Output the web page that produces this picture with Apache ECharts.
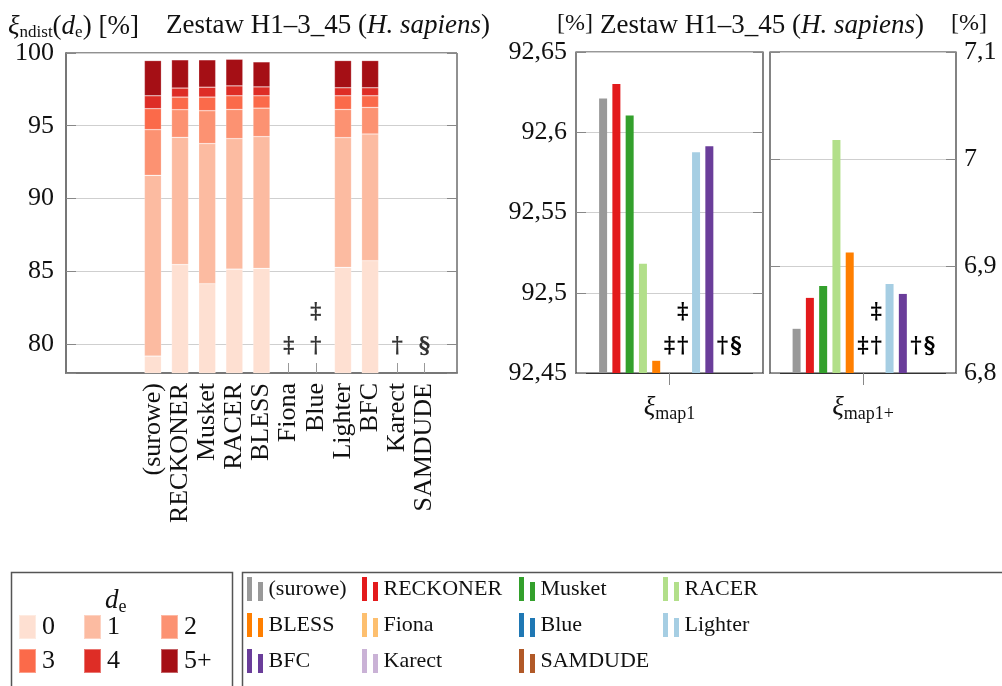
<!DOCTYPE html>
<html>
<head>
<meta charset="utf-8">
<script src="https://cdn.jsdelivr.net/npm/echarts@6/dist/echarts.min.js"></script>
<style>
  html, body { margin: 0; padding: 0; background: #fff; }
  #chart { width: 1002px; height: 686px; }
</style>
</head>
<body>
<div id="chart"></div>
<script>
// Tools compared on the H1-3_45 (H. sapiens) read set
const tools = ['(surowe)', 'RECKONER', 'Musket', 'RACER', 'BLESS', 'Fiona', 'Blue', 'Lighter', 'BFC', 'Karect', 'SAMDUDE'];
const toolColors = ['#999999', '#e31a1c', '#33a02c', '#b2df8a', '#ff7f00', '#fdbf6f', '#1f78b4', '#a6cee3', '#6a3d9a', '#cab2d6', '#b15928'];
// Footnote marks for tools without a result
const marks = ['', '', '', '', '', '‡', '‡\n†', '', '', '†', '§'];

// Edit-distance classes d_e and their shares [%] (stacked)
const deLevels = ['0', '1', '2', '3', '4', '5+'];
const deColors = ['#fee0d2', '#fcbba1', '#fc9272', '#fb6a4a', '#de2d26', '#a50f15'];
const de0 = [79.16, 85.45, 84.14, 85.14, 85.19, null, null, 85.26, 85.72, null, null];
const de1 = [12.43, 8.75, 9.63, 8.97, 9.06, null, null, 8.92, 8.71, null, null];
const de2 = [3.14, 1.90, 2.26, 2.01, 1.96, null, null, 1.94, 1.83, null, null];
const de3 = [1.44, 0.87, 0.94, 0.94, 0.85, null, null, 0.94, 0.80, null, null];
const de4 = [0.89, 0.62, 0.68, 0.68, 0.61, null, null, 0.55, 0.55, null, null];
const de5 = [2.42, 1.94, 1.88, 1.83, 1.72, null, null, 1.87, 1.87, null, null];
const deSeries = [de0, de1, de2, de3, de4, de5];

// Mapping rates [%]
const map1 = [92.621, 92.630, 92.6105, 92.518, 92.4576, null, null, 92.5876, 92.5913, null, null];
const map1plus = [6.8413, 6.8702, 6.8814, 7.0177, 6.9127, null, null, 6.8832, 6.8739, null, null];

// Axis ranges
const ndistRange = [78, 100];
const map1Range = [92.45, 92.65];
const map1plusRange = [6.8, 7.1];

const FONT = 'Liberation Serif';
const MARK_FONT = 'DejaVu Serif';
const INK = '#111';

const chart = echarts.init(document.getElementById('chart'), null, { renderer: 'canvas' });
const idx = tools.map((_, i) => i);

const comma = v => String(Math.round(v * 100) / 100).replace('.', ',');

const markLabel = {
  show: true, position: 'top', distance: 10,
  fontFamily: MARK_FONT, fontWeight: 'bold', fontSize: 22, lineHeight: 34, color: '#000'
};

const series = [];

// Stacked d_e bars; rows are [share, toolIndex] so the share is the stacked dimension
deLevels.forEach((lv, k) => {
  series.push({
    type: 'bar', name: lv, stack: 'de',
    xAxisIndex: 0, yAxisIndex: 0,
    barWidth: 17,
    encode: { x: 1, y: 0 },
    itemStyle: { color: deColors[k], borderColor: 'rgba(255,255,255,0.35)', borderWidth: 0.6 },
    data: idx.filter(i => deSeries[k][i] !== null).map(i => [deSeries[k][i], i]),
    silent: true
  });
});

// Footnote marks along the base of the d_e chart
series.push({
  type: 'scatter', name: 'uwagi',
  xAxisIndex: 0, yAxisIndex: 0,
  symbolSize: 0,
  data: idx.filter(i => marks[i]).map(i => [i, ndistRange[0]]),
  label: Object.assign({}, markLabel, { formatter: p => marks[p.value[0]] }),
  silent: true, z: 5
});

// Mapping-rate bars, one series per tool in each panel
function mapSeries(values, range, xi, yi) {
  tools.forEach((t, i) => {
    const v = values[i];
    const item = v !== null ? v : {
      value: range[0],
      itemStyle: { color: 'rgba(0,0,0,0)' },
      label: Object.assign({}, markLabel, { formatter: marks[i] })
    };
    series.push({
      type: 'bar', name: t,
      xAxisIndex: xi, yAxisIndex: yi,
      barWidth: 8, barGap: '66%',
      itemStyle: { color: toolColors[i] },
      data: [item],
      silent: true
    });
  });
}
mapSeries(map1, map1Range, 1, 2);
mapSeries(map1plus, map1plusRange, 2, 4);

const subRich = {
  g: { fontFamily: FONT, fontSize: 27, fontStyle: 'italic', color: INK },
  s: { fontFamily: FONT, fontSize: 18, color: INK, padding: [12, 0, 0, 0] }
};

const yTick = { show: true, inside: true, length: 10, lineStyle: { color: '#888' } };
const split = { show: true, lineStyle: { color: '#cfcfcf', width: 1 } };

// Legends: one component per entry, laid out as a grid
const legends = [];
const deLegendPos = [[18, 614], [83, 614], [160, 614], [18, 648], [83, 648], [160, 648]];
deLevels.forEach((lv, k) => {
  legends.push({
    data: [lv], left: deLegendPos[k][0], top: deLegendPos[k][1],
    icon: 'rect', itemWidth: 17, itemHeight: 24, padding: 0,
    selectedMode: false,
    textStyle: { fontFamily: FONT, fontSize: 26, color: INK, padding: [0, 0, 0, 1] }
  });
});
const toolLegendCols = [247, 362, 519, 663];
const toolLegendRows = [577, 613, 649];
const barsIcon = 'path://M0,0H5V24H0Z M11,5H16V24H11Z';
tools.forEach((t, i) => {
  legends.push({
    data: [t], left: toolLegendCols[i % 4], top: toolLegendRows[Math.floor(i / 4)],
    icon: barsIcon, itemWidth: 17, itemHeight: 24, padding: 0,
    selectedMode: false,
    textStyle: { fontFamily: FONT, fontSize: 22, color: INK }
  });
});

const titleRich = {
  t: { fontFamily: FONT, fontSize: 27, fontWeight: 'normal', color: INK },
  u: { fontFamily: FONT, fontSize: 24, fontWeight: 'normal', color: INK },
  i: { fontFamily: FONT, fontSize: 27, fontStyle: 'italic', fontWeight: 'normal', color: INK },
  s: { fontFamily: FONT, fontSize: 17, fontWeight: 'normal', color: INK, padding: [12, 0, 0, 0] }
};
const setTitle = '{t|Zestaw H1–3_45 (}{i|H. sapiens}{t|)}';
const titleBase = { top: 12, padding: 0, textStyle: { fontWeight: 'normal', rich: titleRich } };

const option = {
  animation: false,
  backgroundColor: '#fff',
  textStyle: { fontFamily: FONT },
  title: [
    Object.assign({ left: 8, text: '{i|ξ}{s|ndist}{t|(}{i|d}{s|e}{t|) [%]}' }, titleBase),
    Object.assign({ left: 166, text: setTitle }, titleBase),
    Object.assign({ left: 557, text: '{u|[%]}' }, titleBase),
    Object.assign({ left: 600, text: setTitle }, titleBase),
    Object.assign({ left: 951, text: '{u|[%]}' }, titleBase)
  ],
  grid: [
    { left: 66, top: 53, width: 391, height: 320, show: true, borderColor: '#222', borderWidth: 1 },
    { left: 576, top: 52, width: 187, height: 321, show: true, borderColor: '#333', borderWidth: 1.2 },
    { left: 770, top: 52, width: 186, height: 321, show: true, borderColor: '#333', borderWidth: 1.2 }
  ],
  xAxis: [
    {
      type: 'value', gridIndex: 0, min: -3.2, max: 11.2,
      axisLine: { show: true, onZero: false, lineStyle: { color: '#777', width: 2 } },
      axisTick: { show: true, inside: true, length: 10, customValues: idx, lineStyle: { color: '#999' } },
      axisLabel: {
        customValues: idx, rotate: 90, margin: 10,
        formatter: v => tools[v],
        fontFamily: FONT, fontSize: 26, color: INK
      },
      splitLine: { show: false }
    },
    {
      type: 'category', gridIndex: 1, data: ['map1'],
      axisLine: { show: true, lineStyle: { color: '#333', width: 1.2 } },
      axisTick: { show: true, alignWithLabel: true, length: 12, lineStyle: { color: '#888' } },
      axisLabel: { margin: 20, formatter: () => '{g|ξ}{s|map1}', rich: subRich }
    },
    {
      type: 'category', gridIndex: 2, data: ['map1+'],
      axisLine: { show: true, lineStyle: { color: '#333', width: 1.2 } },
      axisTick: { show: true, alignWithLabel: true, length: 12, lineStyle: { color: '#888' } },
      axisLabel: { margin: 20, formatter: () => '{g|ξ}{s|map1+}', rich: subRich }
    }
  ],
  yAxis: [
    {
      type: 'value', gridIndex: 0, min: ndistRange[0], max: ndistRange[1],
      axisLine: { show: true, onZero: false, lineStyle: { color: '#777', width: 2 } },
      axisTick: yTick,
      axisLabel: { margin: 12, formatter: v => (v % 5 === 0 ? String(v) : ''), fontFamily: FONT, fontSize: 26, color: INK },
      splitLine: split
    },
    {
      type: 'value', gridIndex: 0, position: 'right', min: ndistRange[0], max: ndistRange[1],
      axisLine: { show: false, onZero: false }, axisTick: yTick, axisLabel: { show: false }, splitLine: { show: false }
    },
    {
      type: 'value', gridIndex: 1, min: map1Range[0], max: map1Range[1], interval: 0.05,
      axisLine: { show: false, onZero: false }, axisTick: yTick,
      axisLabel: { margin: 9, formatter: comma, fontFamily: FONT, fontSize: 26, color: INK },
      splitLine: split
    },
    {
      type: 'value', gridIndex: 1, position: 'right', min: map1Range[0], max: map1Range[1], interval: 0.05,
      axisLine: { show: false, onZero: false }, axisTick: yTick, axisLabel: { show: false }, splitLine: { show: false }
    },
    {
      type: 'value', gridIndex: 2, position: 'right', min: map1plusRange[0], max: map1plusRange[1], interval: 0.1,
      axisLine: { show: false, onZero: false }, axisTick: yTick,
      axisLabel: { margin: 8, formatter: comma, fontFamily: FONT, fontSize: 26, color: INK },
      splitLine: split
    },
    {
      type: 'value', gridIndex: 2, position: 'left', min: map1plusRange[0], max: map1plusRange[1], interval: 0.1,
      axisLine: { show: false, onZero: false }, axisTick: yTick, axisLabel: { show: false }, splitLine: { show: false }
    }
  ],
  legend: legends,
  graphic: [
    { type: 'rect', shape: { x: 11.5, y: 572.5, width: 221, height: 130 }, style: { fill: 'none', stroke: '#555', lineWidth: 1.5 }, silent: true },
    { type: 'rect', shape: { x: 242.5, y: 572.5, width: 780, height: 130 }, style: { fill: 'none', stroke: '#555', lineWidth: 1.5 }, silent: true },
    {
      type: 'text', x: 105, y: 586, silent: true,
      style: {
        text: '{i|d}{s|e}',
        rich: {
          i: { fontFamily: FONT, fontSize: 27, fontStyle: 'italic', fill: INK },
          s: { fontFamily: FONT, fontSize: 18, fill: INK, padding: [12, 0, 0, 0] }
        }
      }
    }
  ],
  series: series
};

chart.setOption(option);
</script>
</body>
</html>
